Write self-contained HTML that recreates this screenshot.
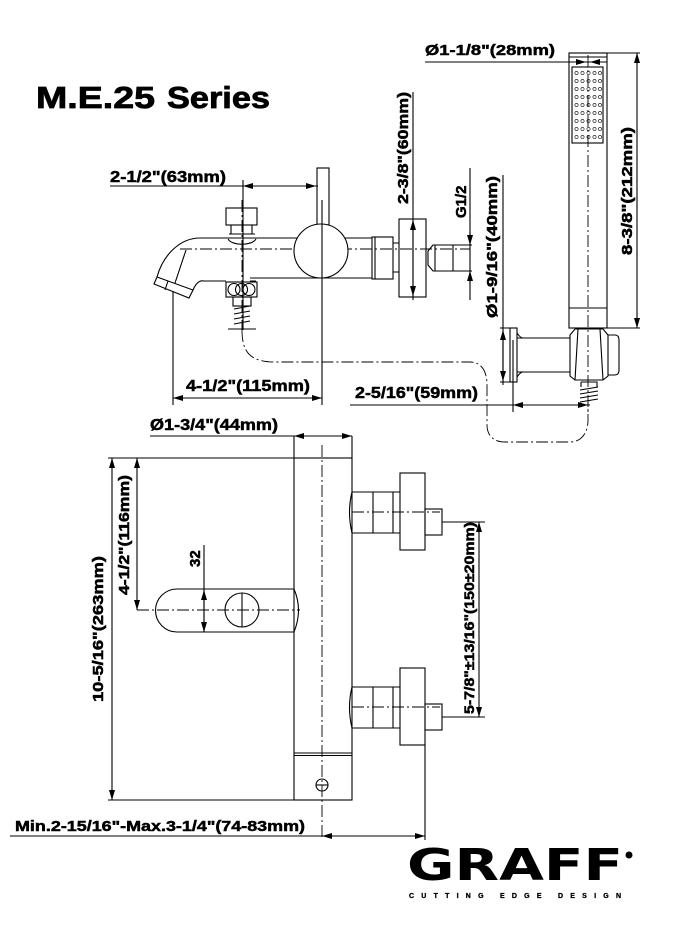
<!DOCTYPE html>
<html><head><meta charset="utf-8"><style>
html,body{margin:0;padding:0;background:#fff}
svg{display:block}
text{font-family:"Liberation Sans",Arial,sans-serif;font-weight:bold;fill:#000;stroke:#000;stroke-width:0.5}
</style></head><body>
<svg width="673" height="927" viewBox="0 0 673 927" xmlns="http://www.w3.org/2000/svg">
<defs>
<marker id="a" viewBox="0 0 10 6" refX="10" refY="3" markerWidth="10" markerHeight="6" orient="auto-start-reverse" markerUnits="userSpaceOnUse"><path d="M0,0L10,3L0,6z" fill="#000"/></marker>
</defs>
<text x="36" y="108" font-size="31" textLength="119" lengthAdjust="spacingAndGlyphs" style="stroke-width:0.8">M.E.25</text>
<text x="167" y="108" font-size="31" textLength="103" lengthAdjust="spacingAndGlyphs" style="stroke-width:0.8">Series</text>

<g fill="none" stroke="#000" stroke-width="1.1">
<g stroke-dasharray="12,3,2,3" stroke-width="0.9">
<path d="M180,249H470"/>
<path d="M242,200V330"/>
<path d="M322,230V300"/>
<path d="M242,330C242,352 250,362 275,362H470C482,362 487,372 487,385V425C487,435 493,442 505,442H570C582,442 588,432 588,420V402"/>
<path d="M588,55V412"/>
</g>
<path d="M110,186H318"/>
<path d="M243,186H316" marker-start="url(#a)" marker-end="url(#a)"/>
<path d="M243,180V330"/>
<rect x="317" y="168" width="12" height="57"/>
<rect x="226" y="208" width="31" height="17"/>
<path d="M231,225V234M252,225V234M229,234H255"/>
<path d="M228,239C232,246 252,246 256,239"/>
<path d="M200,238H372M250,278H372"/>
<path d="M200,238C180,238 163,255 157,277"/>
<path d="M193,290C196,283 200,280 204,281H226M256,281H250"/>
<path d="M157,277L193,290L189,298L154,284Z"/>
<path d="M168,281L165,290"/>
<path d="M186,250L175,283"/>
<circle cx="321" cy="251" r="27" fill="#fff"/>
<rect x="226" y="282" width="31" height="15"/>
<circle cx="234" cy="289.5" r="6"/><circle cx="241.5" cy="289.5" r="6"/><circle cx="249" cy="289.5" r="6"/>
<rect x="233" y="297" width="18" height="9"/>
<path d="M234,309L250,306M234,314L250,311M234,319L250,316M234,324L250,321M228,329H256"/>
<rect x="372" y="237" width="21" height="42"/>
<path d="M375,237V279"/>
<rect x="399" y="219" width="27" height="78"/>
<path d="M393,243H399M393,272H399"/>
<path d="M428,251L433,245H453V271H433L428,265Z"/>
<path d="M435,245V271"/>
<path d="M413,92V300"/>
<path d="M413,220V296" marker-start="url(#a)" marker-end="url(#a)"/>
<path d="M453,245H472M453,271H472"/>
<path d="M470,168V300"/>
<path d="M470,232V245" marker-end="url(#a)"/>
<path d="M470,284V271" marker-end="url(#a)"/>
<path d="M173,292V405M322,200V405"/>
<path d="M173,398H322" marker-start="url(#a)" marker-end="url(#a)"/>
<path d="M350,405H590"/>
<path d="M513,405H588" marker-start="url(#a)" marker-end="url(#a)"/>
<path d="M513,340V412"/>

<path d="M425,62H607"/>
<path d="M569,62H586" marker-end="url(#a)"/>
<path d="M607,62H590" marker-end="url(#a)"/>
<rect x="569" y="53" width="38" height="275"/>
<path d="M569,57H607M569,308H607"/>
<rect x="572" y="67" width="31" height="76"/>
<g>
<g id="row"><circle cx="576.5" cy="73" r="1.6" stroke-width="0.6"/><circle cx="582.5" cy="73" r="1.6" stroke-width="0.6"/><circle cx="588.5" cy="73" r="1.6" stroke-width="0.6"/><circle cx="594.5" cy="73" r="1.6" stroke-width="0.6"/><circle cx="600" cy="73" r="1.6" stroke-width="0.6"/></g>
<use href="#row" y="8"/><use href="#row" y="16"/><use href="#row" y="24"/><use href="#row" y="32"/><use href="#row" y="40"/><use href="#row" y="48"/><use href="#row" y="56"/><use href="#row" y="64"/>
</g>
<path d="M607,53H640M607,328H640"/>
<path d="M637,53V328" marker-start="url(#a)" marker-end="url(#a)"/>
<rect x="510" y="328" width="7" height="54"/>
<path d="M517,338H570M517,372H570"/>
<path d="M517,333C519,336 521,338 523,338M517,377C519,374 521,372 523,372"/>
<path d="M570,335L575,329H603L608,335V376L603,380H575L570,376Z"/>
<path d="M578,329L575,380M600,329L603,380"/>
<path d="M608,335H615Q619,335 619,340V370Q619,375 615,375H608"/>
<path d="M581,382H597V387M581,382V387M580,390L598,387M580,394L598,391M580,398L598,395M580,402L598,399"/>
<path d="M500,328H510M500,382H510"/>
<path d="M503,175V385"/>
<path d="M503,330V381" marker-start="url(#a)" marker-end="url(#a)"/>

<g stroke-dasharray="12,3,2,3" stroke-width="0.9">
<path d="M322,445V840"/>
<path d="M137,610H300"/>
<path d="M352,512H440M352,707H440"/>
</g>
<path d="M150,436H352"/>
<path d="M294,436V458M352,436V458"/>
<path d="M315,436H294" marker-end="url(#a)"/>
<path d="M331,436H352" marker-end="url(#a)"/>
<rect x="294" y="458" width="58" height="342"/>
<path d="M294,753H352M294,755.5H352"/>
<circle cx="322" cy="785" r="6"/>
<path d="M316,785H328"/>
<path d="M108,458H294M108,800H294"/>
<path d="M112,458V800" marker-start="url(#a)" marker-end="url(#a)"/>
<path d="M137,458V610" marker-start="url(#a)" marker-end="url(#a)"/>
<path d="M294,589H177A21.5,21.5 0 0 0 177,632H294"/>
<path d="M294,589Q303,610 294,632"/>
<circle cx="242" cy="610" r="17"/>
<path d="M242,593V627"/>
<path d="M204,545V632"/>
<path d="M204,610V590" marker-end="url(#a)"/>
<path d="M204,612V632" marker-end="url(#a)"/>
<path d="M352,492H400M352,533H400"/>
<path d="M352,492Q347,512 352,533"/>
<path d="M373,492V533M393,492V533"/>
<rect x="400" y="473" width="25" height="77"/>
<rect x="425" y="509" width="17" height="26"/>
<path d="M352,687H400M352,728H400"/>
<path d="M352,687Q347,707 352,728"/>
<path d="M373,687V728M393,687V728"/>
<rect x="400" y="668" width="25" height="77"/>
<rect x="425" y="704" width="17" height="26"/>
<path d="M442,522H485M442,717H485"/>
<path d="M479,522V717" marker-start="url(#a)" marker-end="url(#a)"/>
<path d="M425,745V840"/>
<path d="M10,836H425"/>
<path d="M322,836H425" marker-start="url(#a)" marker-end="url(#a)"/>
</g>

<text x="110" y="182" font-size="16" textLength="116" lengthAdjust="spacingAndGlyphs">2-1/2"(63mm)</text>
<text x="186" y="391" font-size="16" textLength="124" lengthAdjust="spacingAndGlyphs">4-1/2"(115mm)</text>
<text x="355" y="398" font-size="16" textLength="123" lengthAdjust="spacingAndGlyphs">2-5/16"(59mm)</text>
<text x="425" y="55" font-size="15" textLength="130" lengthAdjust="spacingAndGlyphs">Ø1-1/8"(28mm)</text>
<text x="150" y="430" font-size="16" textLength="128" lengthAdjust="spacingAndGlyphs">Ø1-3/4"(44mm)</text>
<text x="15" y="831" font-size="15" textLength="290" lengthAdjust="spacingAndGlyphs">Min.2-15/16"-Max.3-1/4"(74-83mm)</text>
<text transform="translate(408,204) rotate(-90)" font-size="15" textLength="112" lengthAdjust="spacingAndGlyphs">2-3/8"(60mm)</text>
<text transform="translate(466,218) rotate(-90)" font-size="15">G1/2</text>
<text transform="translate(497,318) rotate(-90)" font-size="15" textLength="142" lengthAdjust="spacingAndGlyphs">Ø1-9/16"(40mm)</text>
<text transform="translate(632,255) rotate(-90)" font-size="15" textLength="128" lengthAdjust="spacingAndGlyphs">8-3/8"(212mm)</text>
<text transform="translate(103,702) rotate(-90)" font-size="15" textLength="146" lengthAdjust="spacingAndGlyphs">10-5/16"(263mm)</text>
<text transform="translate(129,595) rotate(-90)" font-size="15" textLength="120" lengthAdjust="spacingAndGlyphs">4-1/2"(116mm)</text>
<text transform="translate(200,567) rotate(-90)" font-size="15">32</text>
<text transform="translate(474,714) rotate(-90)" font-size="14" textLength="192" lengthAdjust="spacingAndGlyphs">5-7/8"±13/16"(150±20mm)</text>

<text x="407" y="880" font-size="44" textLength="216" lengthAdjust="spacingAndGlyphs" style="font-family:'DejaVu Sans','Liberation Sans',sans-serif;stroke-width:0">GRAFF</text>
<circle cx="629" cy="855" r="3.5" fill="#000"/>
<text x="409" y="898" font-size="7" textLength="212" lengthAdjust="spacing" style="stroke-width:0.3">CUTTING EDGE DESIGN</text>
</svg>
</body></html>
